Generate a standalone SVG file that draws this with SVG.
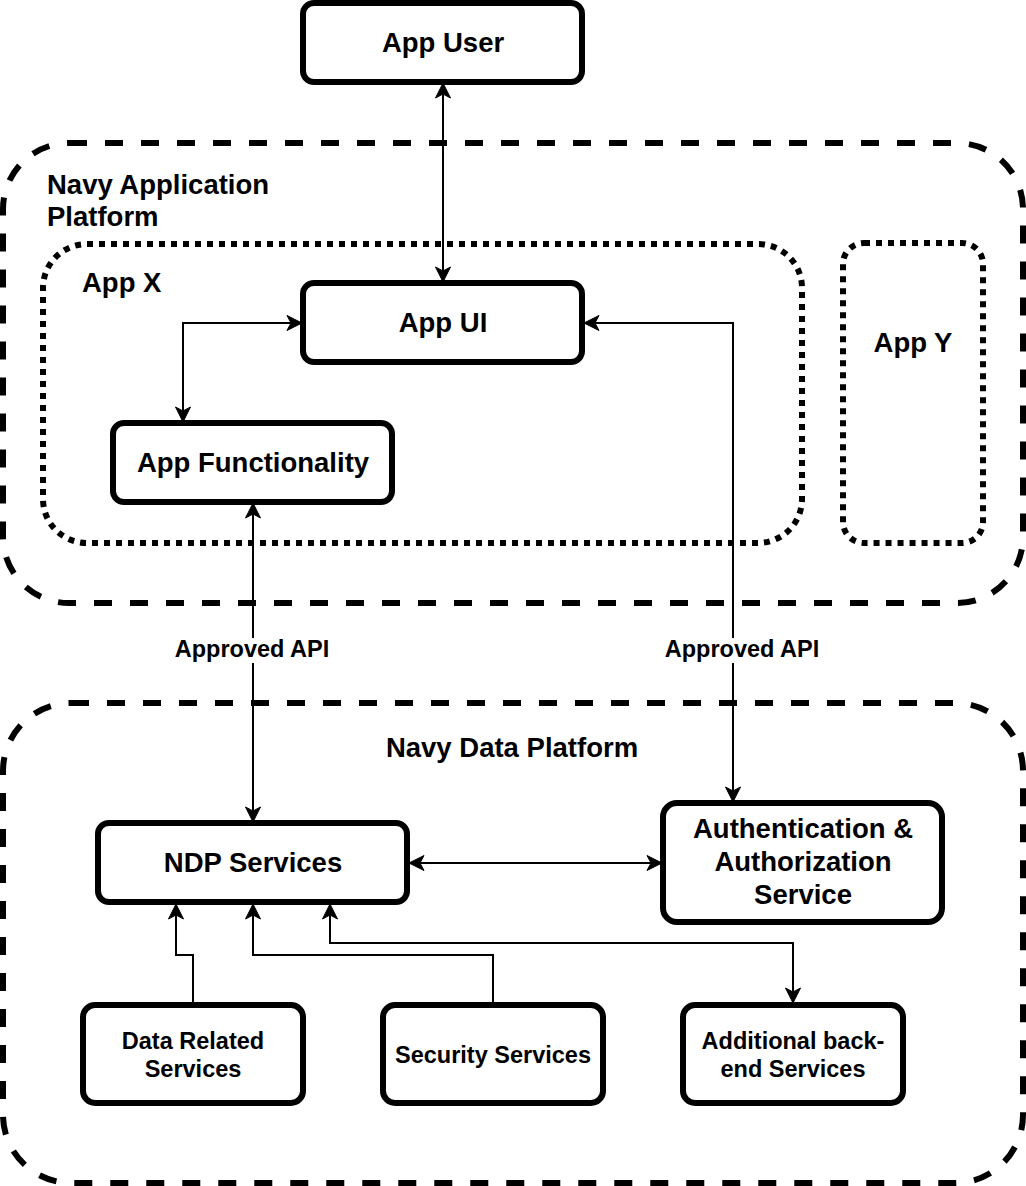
<svg xmlns="http://www.w3.org/2000/svg" width="1026" height="1186" viewBox="0 0 1026 1186">
<style>
.node{fill:#fff;stroke:#000;stroke-width:6}
.dash{fill:none;stroke:#000;stroke-width:6;stroke-dasharray:18 18}
.dot{fill:none;stroke:#000;stroke-width:6;stroke-dasharray:6 6}
text{font-family:"Liberation Sans",Arial,Helvetica,sans-serif;font-weight:bold;fill:#000}
.lg{font-size:27.5px}
.sm{font-size:23.5px}
.c{text-anchor:middle}
.edge{fill:none;stroke:#000;stroke-width:2}
</style>
<defs>
<marker id="arr" markerUnits="userSpaceOnUse" markerWidth="20" markerHeight="20" viewBox="-16 -10 18 20" refX="0" refY="0" orient="auto-start-reverse">
<path d="M0,0 L-15,-7.5 L-11,0 L-15,7.5 Z" fill="#000" stroke="#000" stroke-width="1"/>
</marker>
</defs>
<rect width="1026" height="1186" fill="#fff"/>
<g id="navy-application-platform">
<rect class="dash" x="3" y="143" width="1020" height="460" rx="66" ry="66"/>
<text class="lg" x="47" y="194">Navy Application</text>
<text class="lg" x="47" y="226">Platform</text>
</g>
<g id="app-x">
<rect class="dot" x="43" y="244" width="759" height="299" rx="44" ry="44"/>
<text class="lg" x="82" y="292">App X</text>
</g>
<g id="app-y">
<rect class="dot" x="843" y="243" width="140" height="300" rx="21" ry="21"/>
<text class="lg c" x="913" y="352">App Y</text>
</g>
<g id="navy-data-platform">
<rect class="dash" x="3" y="703" width="1020" height="480" rx="68" ry="68"/>
<text class="lg c" x="512" y="757">Navy Data Platform</text>
</g>
<g id="app-user">
<rect class="node" x="303" y="3" width="279" height="79" rx="11" ry="11"/>
<text class="lg c" x="443" y="52">App User</text>
</g>
<g id="app-ui">
<rect class="node" x="303" y="283" width="279" height="79" rx="11" ry="11"/>
<text class="lg c" x="443" y="332">App UI</text>
</g>
<g id="app-functionality">
<rect class="node" x="113" y="423" width="279" height="79" rx="11" ry="11"/>
<text class="lg c" x="253" y="472">App Functionality</text>
</g>
<g id="ndp-services">
<rect class="node" x="98" y="823" width="309" height="79" rx="11" ry="11"/>
<text class="lg c" x="253" y="872">NDP Services</text>
</g>
<g id="auth-service">
<rect class="node" x="663" y="803" width="279" height="119" rx="14" ry="14"/>
<text class="lg c" x="803" y="838">Authentication &amp;</text>
<text class="lg c" x="803" y="871">Authorization</text>
<text class="lg c" x="803" y="904">Service</text>
</g>
<g id="data-related-services">
<rect class="node" x="83" y="1005" width="220" height="98" rx="12" ry="12"/>
<text class="sm c" x="193" y="1049">Data Related</text>
<text class="sm c" x="193" y="1077">Services</text>
</g>
<g id="security-services">
<rect class="node" x="383" y="1005" width="220" height="98" rx="12" ry="12"/>
<text class="sm c" x="493" y="1063">Security Services</text>
</g>
<g id="additional-backend-services">
<rect class="node" x="683" y="1005" width="220" height="98" rx="12" ry="12"/>
<text class="sm c" x="793" y="1049">Additional back-</text>
<text class="sm c" x="793" y="1077">end Services</text>
</g>
<g id="connectors">
<path class="edge" d="M443,83 L443,282" marker-start="url(#arr)" marker-end="url(#arr)"/>
<path class="edge" d="M302,323 L183,323 L183,422" marker-start="url(#arr)" marker-end="url(#arr)"/>
<path class="edge" d="M584,323 L733,323 L733,802" marker-start="url(#arr)" marker-end="url(#arr)"/>
<path class="edge" d="M253,503 L253,822" marker-start="url(#arr)" marker-end="url(#arr)"/>
<path class="edge" d="M409,863 L662,863" marker-start="url(#arr)" marker-end="url(#arr)"/>
<path class="edge" d="M193,1003 L193,955 L176,955 L176,904" marker-end="url(#arr)"/>
<path class="edge" d="M493,1003 L493,955 L253,955 L253,904" marker-end="url(#arr)"/>
<path class="edge" d="M330,904 L330,943 L793,943 L793,1003" marker-start="url(#arr)" marker-end="url(#arr)"/>
<g id="label-api-1">
<rect x="170" y="638" width="164" height="25" fill="#fff"/>
<text class="sm c" x="252" y="657">Approved API</text>
</g>
<g id="label-api-2">
<rect x="660" y="638" width="164" height="25" fill="#fff"/>
<text class="sm c" x="742" y="657">Approved API</text>
</g>
</g>
</svg>
